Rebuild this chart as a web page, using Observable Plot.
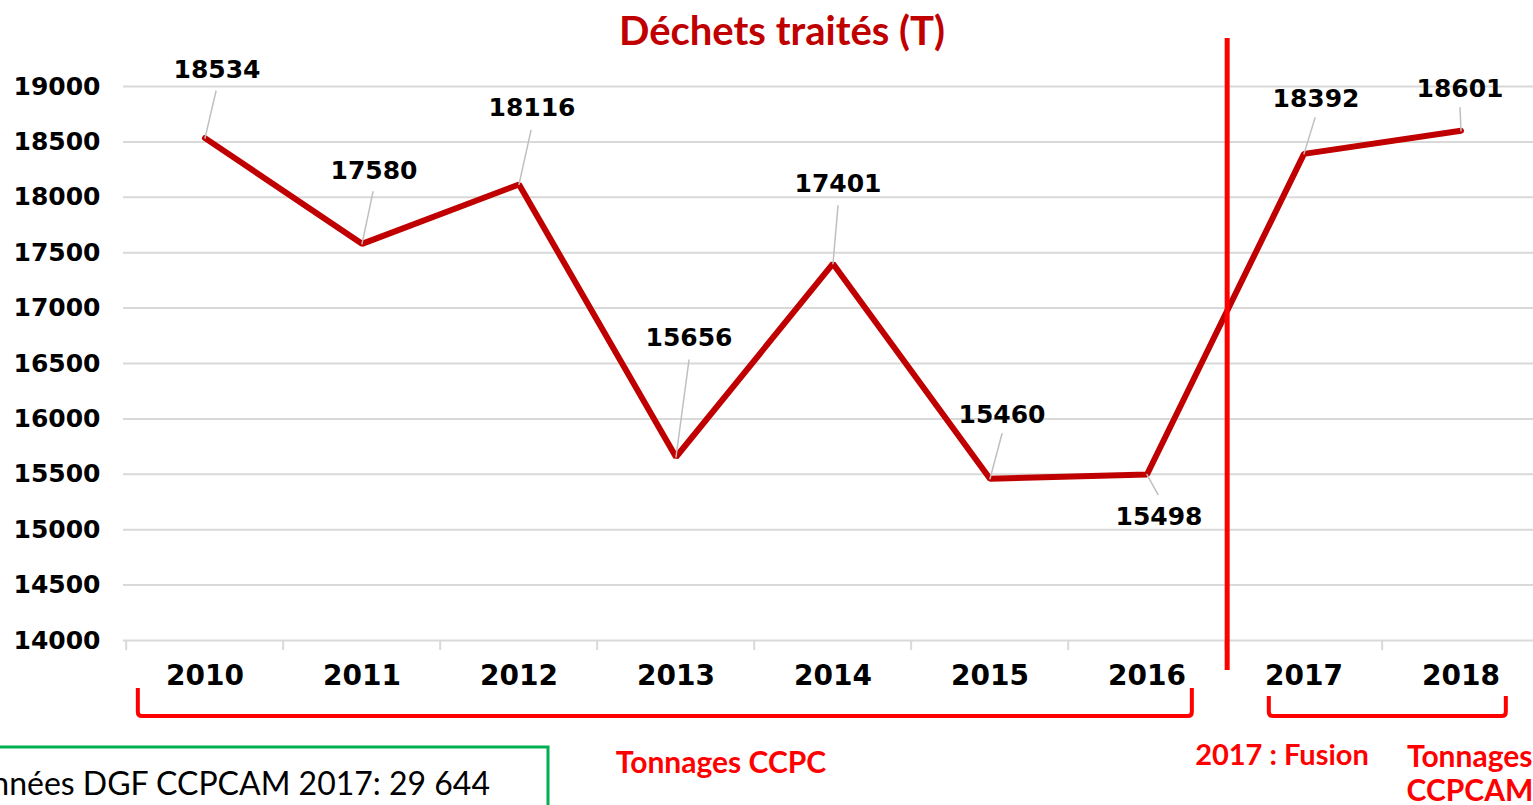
<!DOCTYPE html>
<html>
<head>
<meta charset="utf-8">
<script src="https://cdn.jsdelivr.net/npm/d3@7"></script>
<script src="https://cdn.jsdelivr.net/npm/@observablehq/plot@0.6"></script>
<style>
  html, body { margin: 0; padding: 0; background: white; overflow: hidden; }
  #chart svg { display: block; overflow: hidden; }
</style>
</head>
<body>
<div id="chart"></div>
<script>
// ---- data ----
const years = ["2010", "2011", "2012", "2013", "2014", "2015", "2016", "2017", "2018"];
const tonnages = [18534, 17580, 18116, 15656, 17401, 15460, 15498, 18392, 18601];
const yTicks = [14000, 14500, 15000, 15500, 16000, 16500, 17000, 17500, 18000, 18500, 19000];
const chartTitle = "Déchets traités (T)";
const mergeYear = "2017";
const groupLabels = ["Tonnages CCPC", "2017 : Fusion", "Tonnages", "CCPCAM"];
const noteText = "Données DGF CCPCAM 2017: 29 644";

// ---- layout (pixel offsets of value labels and leader lines) ----
const labelOffsets = [[12,-68],[12,-73],[13,-76],[13,-119],[5,-80],[12,-64],[12,42],[12,-55],[-1,-42]];
const leaderEnds   = [[11,-47],[11,-52],[12,-54],[13,-97],[5,-58],[12,-45],[11,20],[11,-36],[-1,-23]];

const W = 1533, H = 805;
const pLeft = 123, pRight = 1542, pTop = 86, pBottom = 640;
const step = (pRight - pLeft) / years.length;

const data = years.map((y, i) => ({
  year: y, value: tonnages[i],
  ldx: labelOffsets[i][0], ldy: labelOffsets[i][1],
  len: Math.hypot(leaderEnds[i][0], leaderEnds[i][1]),
  rot: Math.atan2(leaderEnds[i][0], -leaderEnds[i][1]) * 180 / Math.PI
}));

const leaderShape = { draw(context, l) { context.moveTo(0, 0); context.lineTo(0, -l); } };
const numFont = "DejaVu Sans";

const plot = Plot.plot({
  width: W, height: H,
  marginLeft: pLeft, marginRight: 0, marginTop: pTop, marginBottom: H - pBottom,
  style: { fontFamily: numFont, background: "white", overflow: "hidden" },
  x: { type: "band", domain: years, range: [pLeft, pRight], padding: 0, label: null },
  y: { domain: [14000, 19000], range: [pBottom, pTop], label: null },
  length: { type: "identity" },
  marks: [
    Plot.gridY(yTicks, { stroke: "#d9d9d9", strokeOpacity: 1, strokeWidth: 2 }),
    Plot.ruleX(years, { x: d => d, dx: -step / 2, stroke: "#d9d9d9", strokeWidth: 2,
      insetTop: pBottom - pTop, insetBottom: -10 }),
    Plot.axisY(yTicks, { tickSize: 0, tickPadding: 23, fontSize: 25, fontWeight: "bold",
      fill: "black", tickFormat: d => String(d) }),
    Plot.axisX({ tickSize: 0, tickPadding: 25, fontSize: 28, fontWeight: "bold", fill: "black" }),
    Plot.line(data, { x: "year", y: "value", stroke: "#c00000", strokeWidth: 6,
      strokeLinejoin: "miter", strokeLinecap: "round" }),
    Plot.ruleX([mergeYear], { x: d => d, dx: -step / 2 + 2, stroke: "#ff0000", strokeWidth: 5,
      insetTop: -48, insetBottom: -30 }),
    Plot.vector(data, { x: "year", y: "value", length: "len", rotate: "rot", anchor: "start",
      shape: leaderShape, stroke: "#bfbfbf", strokeWidth: 1.5 }),
    ...data.map(d => Plot.text([d], { x: "year", y: "value", text: d => String(d.value),
      dx: d.ldx, dy: d.ldy, fontSize: 25, fontWeight: "bold", fill: "black" }))
  ]
});

document.getElementById("chart").appendChild(plot);

// ---- annotations placed with the plot's scales ----
const svg = d3.select(plot);
const xs = plot.scale("x");
const xc = y => xs.apply(y) + step / 2;
const red = "#ff0000";
const sansFont = "Lato, 'Open Sans', sans-serif";

svg.append("text").attr("x", 782).attr("y", 30).attr("text-anchor", "middle")
  .attr("dominant-baseline", "central").attr("font-family", sansFont)
  .attr("font-size", 40).attr("font-weight", "bold").attr("fill", "#c00000").text(chartTitle);

function bracket(x1, x2, y1, y2) {
  const r = 4;
  svg.append("path")
    .attr("d", `M${x1},${y1} L${x1},${y2 - r} Q${x1},${y2} ${x1 + r},${y2} L${x2 - r},${y2} Q${x2},${y2} ${x2},${y2 - r} L${x2},${y1}`)
    .attr("fill", "none").attr("stroke", red).attr("stroke-width", 4);
}
bracket(xc("2010") - 67, xc("2016") + 45, 688, 716);
bracket(xc("2017") - 35, xc("2018") + 45, 696, 716);

function label(txt, x, y, size, anchor) {
  svg.append("text").attr("x", x).attr("y", y).attr("text-anchor", anchor || "middle")
    .attr("dominant-baseline", "central").attr("font-family", sansFont)
    .attr("font-size", size).attr("font-weight", "bold").attr("fill", red).text(txt);
}
label(groupLabels[0], 721, 761, 30);
label(groupLabels[1], 1282, 753, 29);
label(groupLabels[2], 1407, 755, 30, "start");
label(groupLabels[3], 1470, 789, 30);

svg.append("rect").attr("x", -20).attr("y", 747).attr("width", 568).attr("height", 80)
  .attr("fill", "none").attr("stroke", "#00b050").attr("stroke-width", 3);
svg.append("text").attr("x", 490).attr("y", 782).attr("text-anchor", "end")
  .attr("dominant-baseline", "central").attr("font-family", sansFont)
  .attr("font-size", 32).attr("fill", "black").text(noteText);
</script>
</body>
</html>
